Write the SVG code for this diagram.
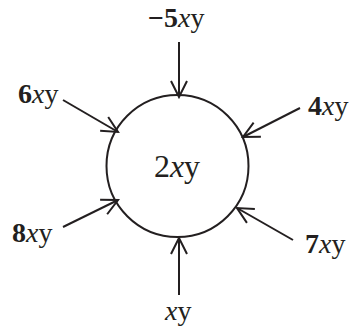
<svg xmlns="http://www.w3.org/2000/svg" width="351" height="331" viewBox="0 0 351 331">
<defs>
<marker id="ah" viewBox="0 0 20 20" refX="18" refY="10" markerWidth="20" markerHeight="20" markerUnits="userSpaceOnUse" orient="auto">
<path d="M2,2 L18,10 L2,18" fill="none" stroke="#231f20" stroke-width="2"/>
</marker>
</defs>
<style>
text{font-family:"Liberation Serif","Times New Roman",serif;font-size:28px;fill:#231f20}
.b{font-weight:bold}
.i{font-style:italic}
.c{stroke:#231f20;stroke-width:2;fill:none}
</style>
<g id="connectors" class="c">
<line x1="179" y1="42" x2="179" y2="97" marker-end="url(#ah)"/>
<line x1="63" y1="100" x2="118" y2="132" marker-end="url(#ah)"/>
<line x1="300" y1="108" x2="243" y2="137" marker-end="url(#ah)"/>
<line x1="63" y1="227" x2="118" y2="200" marker-end="url(#ah)"/>
<line x1="293" y1="240" x2="237" y2="208" marker-end="url(#ah)"/>
<line x1="179" y1="295" x2="179" y2="238" marker-end="url(#ah)"/>
</g>
<g id="center">
<circle cx="177.5" cy="166" r="71" class="c"/>
<text x="177" y="177" text-anchor="middle" style="font-size:32px">2<tspan class="i">x</tspan>y</text>
</g>
<g id="n-top"><text x="148" y="27"><tspan class="b">−5</tspan><tspan class="i">x</tspan>y</text></g>
<g id="n-tl"><text x="18" y="103"><tspan class="b">6</tspan><tspan class="i">x</tspan>y</text></g>
<g id="n-r"><text x="308" y="115"><tspan class="b">4</tspan><tspan class="i">x</tspan>y</text></g>
<g id="n-bl"><text x="12" y="242"><tspan class="b">8</tspan><tspan class="i">x</tspan>y</text></g>
<g id="n-br"><text x="305" y="253"><tspan class="b">7</tspan><tspan class="i">x</tspan>y</text></g>
<g id="n-b"><text x="165" y="320"><tspan class="i">x</tspan>y</text></g>
</svg>
